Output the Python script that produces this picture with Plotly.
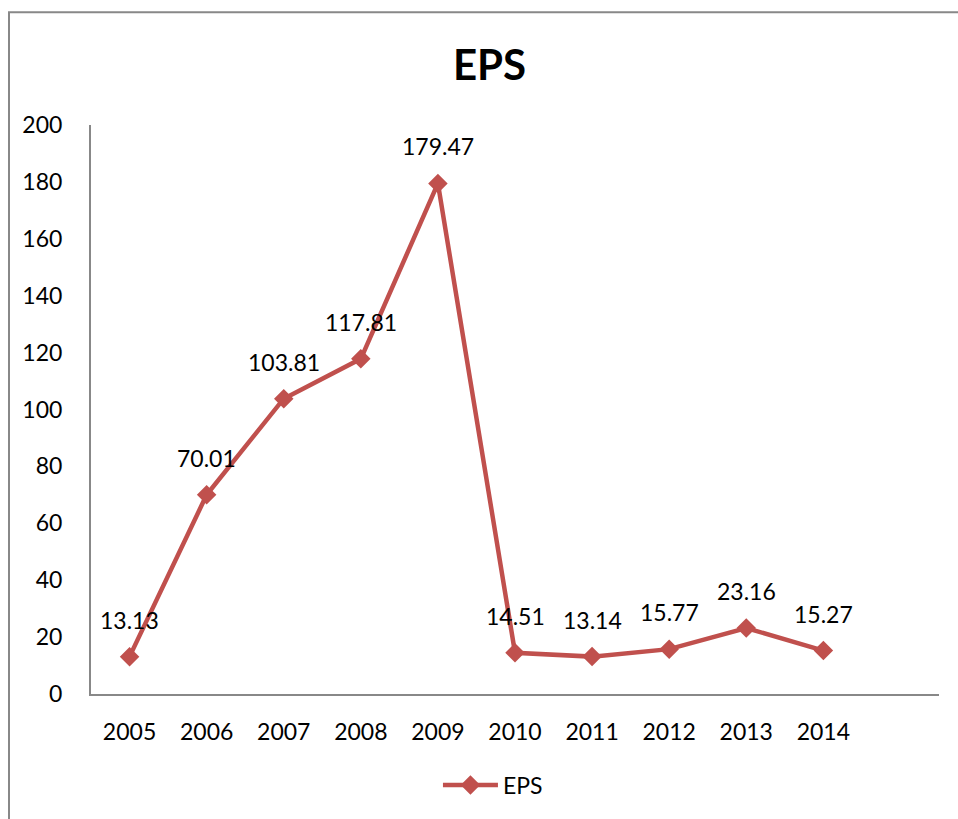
import plotly.graph_objects as go

years = ["2005", "2006", "2007", "2008", "2009", "2010", "2011", "2012", "2013", "2014"]
eps = [13.13, 70.01, 103.81, 117.81, 179.47, 14.51, 13.14, 15.77, 23.16, 15.27]
labels = ["13.13", "70.01", "103.81", "117.81", "179.47", "14.51", "13.14", "15.77", "23.16", "15.27"]
y_ticks = [0, 20, 40, 60, 80, 100, 120, 140, 160, 180, 200]

color = "#C0504D"
font = "Lato, Open Sans, Liberation Sans, sans-serif"

fig = go.Figure()
fig.add_trace(go.Scatter(
    x=years, y=eps, mode="lines+markers", name="EPS",
    line=dict(color=color, width=4.5),
    marker=dict(symbol="diamond", size=15, color=color),
))

# category axis: annotate by category index
for i, (y, t) in enumerate(zip(eps, labels)):
    fig.add_annotation(x=i, y=y, text=t, showarrow=False, yshift=37,
                       font=dict(size=23, color="black", family=font))

fig.add_shape(type="rect", xref="paper", yref="paper",
              x0=-0.0967, x1=1.1, y0=-0.3, y1=1.198,
              line=dict(color="#888888", width=2), layer="below")

fig.update_layout(
    width=958, height=819,
    margin=dict(l=91, r=19, t=125, b=122),
    paper_bgcolor="white", plot_bgcolor="white",
    title=dict(text="<b>EPS</b>", x=0.511, xanchor="center", y=0.92, yanchor="middle",
               font=dict(size=42, color="black", family=font)),
    font=dict(family=font, size=23, color="black"),
    showlegend=True,
    legend=dict(orientation="h", x=0.474, xanchor="center", y=-0.16, yanchor="middle",
                font=dict(size=23), itemwidth=55),
    xaxis=dict(type="category", categoryorder="array", categoryarray=years,
               range=[-0.5, 10.5], showline=True, linecolor="#888888", linewidth=2,
               showgrid=False, zeroline=False, ticks="", ticklabelstandoff=16,
               tickfont=dict(size=23)),
    yaxis=dict(range=[0, 200], tickvals=y_ticks, showline=True, linecolor="#888888",
               linewidth=2, showgrid=False, zeroline=False, ticks="", ticklabelstandoff=22,
               tickfont=dict(size=23)),
)

fig.write_html("out.html")
